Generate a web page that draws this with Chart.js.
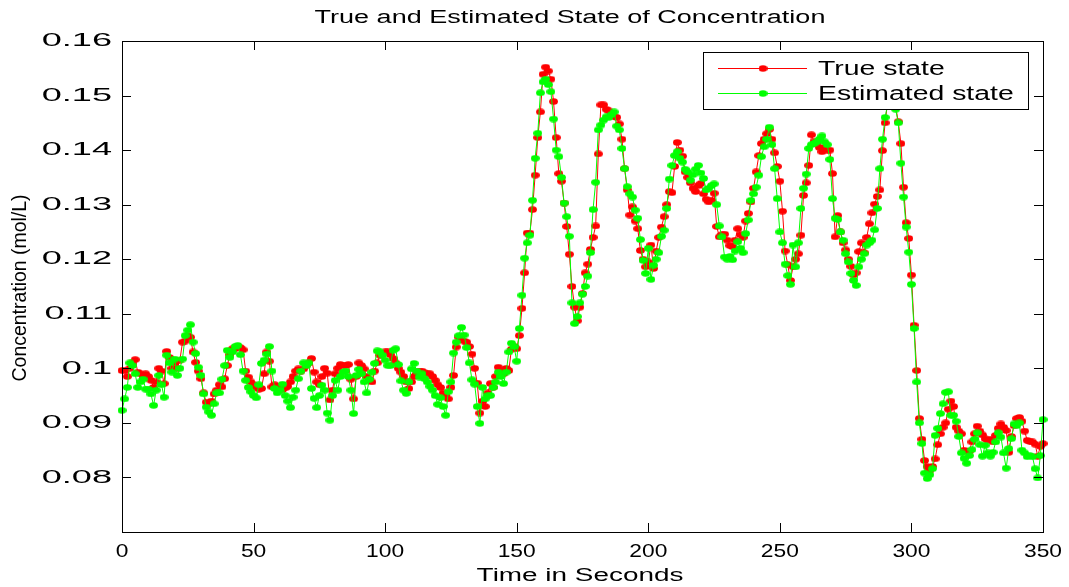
<!DOCTYPE html>
<html>
<head>
<meta charset="utf-8">
<script src="https://cdn.jsdelivr.net/npm/chart.js@4/dist/chart.umd.min.js"></script>
<style>
  html, body { margin: 0; padding: 0; background: #fff; }
  #wrap { width: 1069px; height: 587px; }
</style>
</head>
<body>
<div id="wrap"><canvas id="concChart" width="1069" height="587"></canvas></div>
<script>
// values, one sample per second (t = 0 .. 350)
const trueState = [
  0.0996, 0.0996, 0.0985, 0.1000, 0.1010, 0.1016, 0.0993, 0.0990, 0.0985, 0.0990,
  0.0985, 0.0978, 0.0965, 0.0975, 0.1000, 0.0995, 0.0972, 0.1031, 0.1020, 0.1000,
  0.1010, 0.1000, 0.1015, 0.1048, 0.1050, 0.1060, 0.1057, 0.1030, 0.1011, 0.0995,
  0.0981, 0.0955, 0.0938, 0.0935, 0.0940, 0.0953, 0.0960, 0.0970, 0.0966, 0.0981,
  0.1005, 0.1025, 0.1036, 0.1036, 0.1040, 0.1038, 0.1034, 0.0995, 0.0984, 0.0975,
  0.0970, 0.0965, 0.0962, 0.0963, 0.0990, 0.1030, 0.1013, 0.0966, 0.0970, 0.0966,
  0.0965, 0.0961, 0.0964, 0.0967, 0.0975, 0.0985, 0.0995, 0.0999, 0.0995, 0.0999,
  0.1005, 0.1010, 0.1018, 0.0993, 0.0975, 0.0970, 0.0985, 0.1000, 0.0991, 0.0942,
  0.0960, 0.0990, 0.1000, 0.1007, 0.1005, 0.1005, 0.1007, 0.0980, 0.0944, 0.0985,
  0.1010, 0.1005, 0.0999, 0.0985, 0.0980, 0.0975, 0.0995, 0.1010, 0.1024, 0.1028,
  0.1030, 0.1030, 0.1025, 0.1018, 0.1010, 0.1000, 0.0993, 0.0985, 0.0975, 0.0963,
  0.0975, 0.0985, 0.0990, 0.0995, 0.0995, 0.0992, 0.0990, 0.0990, 0.0985, 0.0978,
  0.0970, 0.0965, 0.0955, 0.0950, 0.0944, 0.0965, 0.0987, 0.1039, 0.1057, 0.1052,
  0.1050, 0.1048, 0.1040, 0.1026, 0.1000, 0.0973, 0.0918, 0.0940, 0.0930, 0.0955,
  0.0972, 0.0965, 0.0985, 0.1002, 0.0995, 0.0990, 0.1000, 0.0996, 0.1035, 0.1040,
  0.1036, 0.1060, 0.1110, 0.1175, 0.1248, 0.1248, 0.1291, 0.1354, 0.1423, 0.1470,
  0.1539, 0.1552, 0.1545, 0.1530, 0.1489, 0.1423, 0.1357, 0.1343, 0.1303, 0.1260,
  0.1209, 0.1150, 0.1112, 0.1087, 0.1112, 0.1137, 0.1175, 0.1191, 0.1218, 0.1240,
  0.1261, 0.1393, 0.1483, 0.1483, 0.1475, 0.1472, 0.1465, 0.1462, 0.1460, 0.1448,
  0.1420, 0.1366, 0.1327, 0.1281, 0.1296, 0.1270, 0.1256, 0.1216, 0.1200, 0.1186,
  0.1195, 0.1226, 0.1183, 0.1215, 0.1240, 0.1259, 0.1278, 0.1300, 0.1324, 0.1322,
  0.1370, 0.1414, 0.1400, 0.1389, 0.1360, 0.1350, 0.1340, 0.1330, 0.1324, 0.1335,
  0.1339, 0.1320, 0.1310, 0.1305, 0.1308, 0.1321, 0.1260, 0.1241, 0.1245, 0.1246,
  0.1235, 0.1225, 0.1223, 0.1235, 0.1256, 0.1245, 0.1240, 0.1270, 0.1284, 0.1305,
  0.1330, 0.1360, 0.1390, 0.1412, 0.1420, 0.1430, 0.1438, 0.1420, 0.1395, 0.1370,
  0.1343, 0.1288, 0.1215, 0.1190, 0.1161, 0.1186, 0.1200, 0.1210, 0.1244, 0.1317,
  0.1340, 0.1372, 0.1428, 0.1415, 0.1412, 0.1405, 0.1397, 0.1405, 0.1400, 0.1400,
  0.1357, 0.1241, 0.1280, 0.1250, 0.1230, 0.1217, 0.1200, 0.1187, 0.1171, 0.1175,
  0.1214, 0.1230, 0.1212, 0.1240, 0.1265, 0.1285, 0.1301, 0.1315, 0.1327, 0.1399,
  0.1450, 0.1490, 0.1510, 0.1505, 0.1480, 0.1452, 0.1412, 0.1332, 0.1267, 0.1238,
  0.1171, 0.1079, 0.0996, 0.0908, 0.0870, 0.0831, 0.0820, 0.0813, 0.0820, 0.0834,
  0.0860, 0.0880, 0.0892, 0.0900, 0.0925, 0.0940, 0.0930, 0.0892, 0.0885, 0.0880,
  0.0850, 0.0848, 0.0848, 0.0865, 0.0880, 0.0894, 0.0885, 0.0878, 0.0871, 0.0868,
  0.0870, 0.0865, 0.0877, 0.0890, 0.0898, 0.0892, 0.0886, 0.0846, 0.0875, 0.0895,
  0.0908, 0.0910, 0.0903, 0.0885, 0.0868, 0.0866, 0.0865, 0.0861, 0.0839, 0.0857,
  0.0862
];

const estimatedState = [
  0.0923, 0.0944, 0.0965, 0.1010, 0.1005, 0.0990, 0.0965, 0.0975, 0.0980, 0.0962,
  0.0962, 0.0953, 0.0932, 0.0960, 0.0987, 0.0970, 0.0947, 0.1024, 0.1010, 0.0993,
  0.1017, 0.0987, 0.1000, 0.1017, 0.1060, 0.1070, 0.1080, 0.1048, 0.1027, 0.1002,
  0.0987, 0.0953, 0.0929, 0.0920, 0.0914, 0.0935, 0.0955, 0.0955, 0.0980, 0.1005,
  0.1033, 0.1020, 0.1030, 0.1040, 0.1042, 0.1025, 0.0995, 0.0978, 0.0965, 0.0957,
  0.0950, 0.0946, 0.0970, 0.1009, 0.1015, 0.1026, 0.1040, 0.0995, 0.0963, 0.0955,
  0.0960, 0.0971, 0.0950, 0.0940, 0.0928, 0.0947, 0.0960, 0.0981, 0.0995, 0.1010,
  0.1005, 0.1010, 0.0963, 0.0945, 0.0928, 0.0950, 0.0969, 0.0960, 0.0918, 0.0905,
  0.0950, 0.0978, 0.0960, 0.0985, 0.0993, 0.0995, 0.0985, 0.0960, 0.0917, 0.0987,
  0.0998, 0.0990, 0.0975, 0.0955, 0.0980, 0.0993, 0.1009, 0.1032, 0.1030, 0.1024,
  0.1015, 0.1005, 0.1005, 0.1033, 0.1036, 0.1007, 0.0977, 0.0960, 0.0954, 0.0975,
  0.0999, 0.1009, 0.0995, 0.0984, 0.0990, 0.0981, 0.0975, 0.0967, 0.0960, 0.0950,
  0.0934, 0.0946, 0.0930, 0.0914, 0.0957, 0.0975, 0.1028, 0.1048, 0.1060, 0.1075,
  0.1061, 0.1038, 0.1010, 0.0979, 0.0971, 0.0930, 0.0899, 0.0965, 0.0944, 0.0950,
  0.0950, 0.0965, 0.0975, 0.0993, 0.0985, 0.0972, 0.0993, 0.1030, 0.1046, 0.1040,
  0.1013, 0.1073, 0.1134, 0.1202, 0.1230, 0.1244, 0.1308, 0.1385, 0.1431, 0.1505,
  0.1525, 0.1530, 0.1520, 0.1507, 0.1457, 0.1400, 0.1388, 0.1350, 0.1303, 0.1278,
  0.1242, 0.1120, 0.1082, 0.1095, 0.1120, 0.1136, 0.1150, 0.1169, 0.1212, 0.1291,
  0.1341, 0.1437, 0.1446, 0.1455, 0.1461, 0.1460, 0.1465, 0.1470, 0.1444, 0.1437,
  0.1403, 0.1366, 0.1333, 0.1320, 0.1314, 0.1290, 0.1275, 0.1236, 0.1198, 0.1174,
  0.1220, 0.1163, 0.1189, 0.1200, 0.1212, 0.1242, 0.1253, 0.1293, 0.1347, 0.1372,
  0.1390, 0.1397, 0.1385, 0.1378, 0.1365, 0.1360, 0.1345, 0.1355, 0.1365, 0.1372,
  0.1358, 0.1348, 0.1327, 0.1330, 0.1335, 0.1338, 0.1300, 0.1261, 0.1241, 0.1204,
  0.1200, 0.1205, 0.1199, 0.1215, 0.1232, 0.1220, 0.1212, 0.1247, 0.1272, 0.1308,
  0.1320, 0.1332, 0.1354, 0.1388, 0.1406, 0.1420, 0.1442, 0.1410, 0.1366, 0.1311,
  0.1250, 0.1230, 0.1191, 0.1170, 0.1154, 0.1226, 0.1186, 0.1230, 0.1293, 0.1330,
  0.1356, 0.1403, 0.1410, 0.1412, 0.1415, 0.1420, 0.1426, 0.1415, 0.1410, 0.1383,
  0.1311, 0.1275, 0.1273, 0.1250, 0.1235, 0.1210, 0.1195, 0.1174, 0.1161, 0.1152,
  0.1186, 0.1200, 0.1210, 0.1226, 0.1230, 0.1235, 0.1254, 0.1293, 0.1366, 0.1420,
  0.1460, 0.1485, 0.1500, 0.1495, 0.1475, 0.1450, 0.1376, 0.1314, 0.1259, 0.1213,
  0.1154, 0.1073, 0.0975, 0.0900, 0.0862, 0.0808, 0.0798, 0.0805, 0.0816, 0.0877,
  0.0890, 0.0917, 0.0935, 0.0956, 0.0957, 0.0914, 0.0914, 0.0903, 0.0875, 0.0845,
  0.0835, 0.0826, 0.0840, 0.0851, 0.0870, 0.0882, 0.0860, 0.0839, 0.0859, 0.0845,
  0.0839, 0.0846, 0.0865, 0.0882, 0.0874, 0.0845, 0.0817, 0.0853, 0.0871, 0.0898,
  0.0895, 0.0900, 0.0850, 0.0845, 0.0838, 0.0840, 0.0838, 0.0816, 0.0799, 0.0840,
  0.0906
];

const sampleStep = 1; // seconds between samples
const timeSec = trueState.map((_, i) => i * sampleStep);

const xTicks = [0, 50, 100, 150, 200, 250, 300, 350];
const xTickLabels = ['0', '50', '100', '150', '200', '250', '300', '350'];
const yTicks = [0.08, 0.09, 0.10, 0.11, 0.12, 0.13, 0.14, 0.15, 0.16];
const yTickLabels = ['0.08', '0.09', '0.1', '0.11', '0.12', '0.13', '0.14', '0.15', '0.16'];
const seriesNames = ['True state', 'Estimated state'];
const seriesColors = ['#ff0000', '#00ff00'];

const FONT = '"Liberation Sans", Arial, Helvetica, sans-serif';

// oval marker like the squashed MATLAB dots
function makeDot(color) {
  const c = document.createElement('canvas');
  c.width = 9; c.height = 7;
  const g = c.getContext('2d');
  g.fillStyle = color;
  g.beginPath();
  g.ellipse(4.5, 3.5, 4.4, 3.2, 0, 0, Math.PI * 2);
  g.fill();
  return c;
}
const dots = seriesColors.map(makeDot);

// the source picture is stretched sideways, so text is drawn wider than normal
function wideText(ctx, text, x, y, align, size, sx) {
  ctx.save();
  ctx.font = size + 'px ' + FONT;
  ctx.textBaseline = 'middle';
  ctx.translate(x, y);
  ctx.scale(sx, 1);
  ctx.textAlign = align;
  ctx.fillText(text, 0, 0);
  ctx.restore();
}

const frame = {
  id: 'frame',
  afterDatasetsDraw(chart) {
    const { ctx, chartArea: a, scales } = chart;
    const xs = scales.x, ys = scales.y;
    ctx.save();
    ctx.fillStyle = '#000';
    ctx.strokeStyle = '#000';
    ctx.lineWidth = 1;

    // box
    ctx.strokeRect(Math.round(a.left) + 0.5, Math.round(a.top) + 0.5,
      Math.round(a.right - a.left), Math.round(a.bottom - a.top));

    // inward ticks on all four sides
    const tl = 9;
    ctx.beginPath();
    xs.ticks.forEach(t => {
      const px = Math.round(xs.getPixelForValue(t.value)) + 0.5;
      ctx.moveTo(px, a.bottom); ctx.lineTo(px, a.bottom - tl);
      ctx.moveTo(px, a.top); ctx.lineTo(px, a.top + tl);
    });
    ys.ticks.forEach(t => {
      const py = Math.round(ys.getPixelForValue(t.value)) + 0.5;
      ctx.moveTo(a.left, py); ctx.lineTo(a.left + tl, py);
      ctx.moveTo(a.right, py); ctx.lineTo(a.right - tl, py);
    });
    ctx.stroke();

    // tick labels
    xs.ticks.forEach((t, i) => {
      wideText(ctx, xTickLabels[i], xs.getPixelForValue(t.value), a.bottom + 20, 'center', 19, 1.2);
    });
    ys.ticks.forEach((t, i) => {
      wideText(ctx, yTickLabels[i], a.left - 10, ys.getPixelForValue(t.value), 'right', 19, 1.9);
    });

    // title and axis labels
    wideText(ctx, 'True and Estimated State of Concentration', 570, 18, 'center', 18, 1.5);
    wideText(ctx, 'Time in Seconds', 580, 576, 'center', 18, 1.55);
    ctx.save();
    ctx.translate(21, 288);
    ctx.rotate(-Math.PI / 2);
    ctx.scale(1.08, 1.1);
    ctx.font = '18px ' + FONT;
    ctx.textAlign = 'center';
    ctx.textBaseline = 'middle';
    ctx.fillText('Concentration (mol/L)', 0, 0);
    ctx.restore();

    // legend box (opaque, on top of the data like MATLAB)
    const lx = 703, ly = 52, lw = 325, lh = 57;
    ctx.fillStyle = '#fff';
    ctx.fillRect(lx, ly, lw, lh);
    ctx.strokeRect(lx + 0.5, ly + 0.5, lw, lh);
    seriesNames.forEach((name, i) => {
      const ry = ly + 16 + i * 25;
      ctx.strokeStyle = seriesColors[i];
      ctx.beginPath();
      ctx.moveTo(718, ry + 0.5); ctx.lineTo(807, ry + 0.5);
      ctx.stroke();
      ctx.drawImage(dots[i], 763 - 4.5, ry - 3);
      ctx.fillStyle = '#000';
      wideText(ctx, name, 818, ry + 1, 'left', 20, 1.42);
    });
    ctx.restore();
  }
};

const toPoints = arr => arr.map((v, i) => ({ x: timeSec[i], y: v }));

new Chart(document.getElementById('concChart'), {
  type: 'line',
  data: {
    datasets: [
      {
        label: seriesNames[0],
        data: toPoints(trueState),
        borderColor: seriesColors[0],
        backgroundColor: seriesColors[0],
        borderWidth: 1,
        pointStyle: dots[0],
        pointRadius: 4,
        tension: 0,
        clip: false,
        order: 2
      },
      {
        label: seriesNames[1],
        data: toPoints(estimatedState),
        borderColor: seriesColors[1],
        backgroundColor: seriesColors[1],
        borderWidth: 1,
        pointStyle: dots[1],
        pointRadius: 4,
        tension: 0,
        clip: false,
        order: 1
      }
    ]
  },
  options: {
    responsive: false,
    animation: false,
    events: [],
    layout: { padding: { top: 41, right: 26, left: 0, bottom: 0 } },
    plugins: { legend: { display: false }, tooltip: { enabled: false }, title: { display: false } },
    scales: {
      x: {
        type: 'linear', min: 0, max: 350,
        grid: { display: false }, border: { display: false },
        ticks: { display: false },
        afterBuildTicks: s => { s.ticks = xTicks.map(v => ({ value: v })); },
        afterFit: s => { s.height = 55; }
      },
      y: {
        type: 'linear', min: 0.07, max: 0.16,
        grid: { display: false }, border: { display: false },
        ticks: { display: false },
        afterBuildTicks: s => { s.ticks = yTicks.map(v => ({ value: v })); },
        afterFit: s => { s.width = 122; }
      }
    }
  },
  plugins: [frame]
});
</script>
</body>
</html>
